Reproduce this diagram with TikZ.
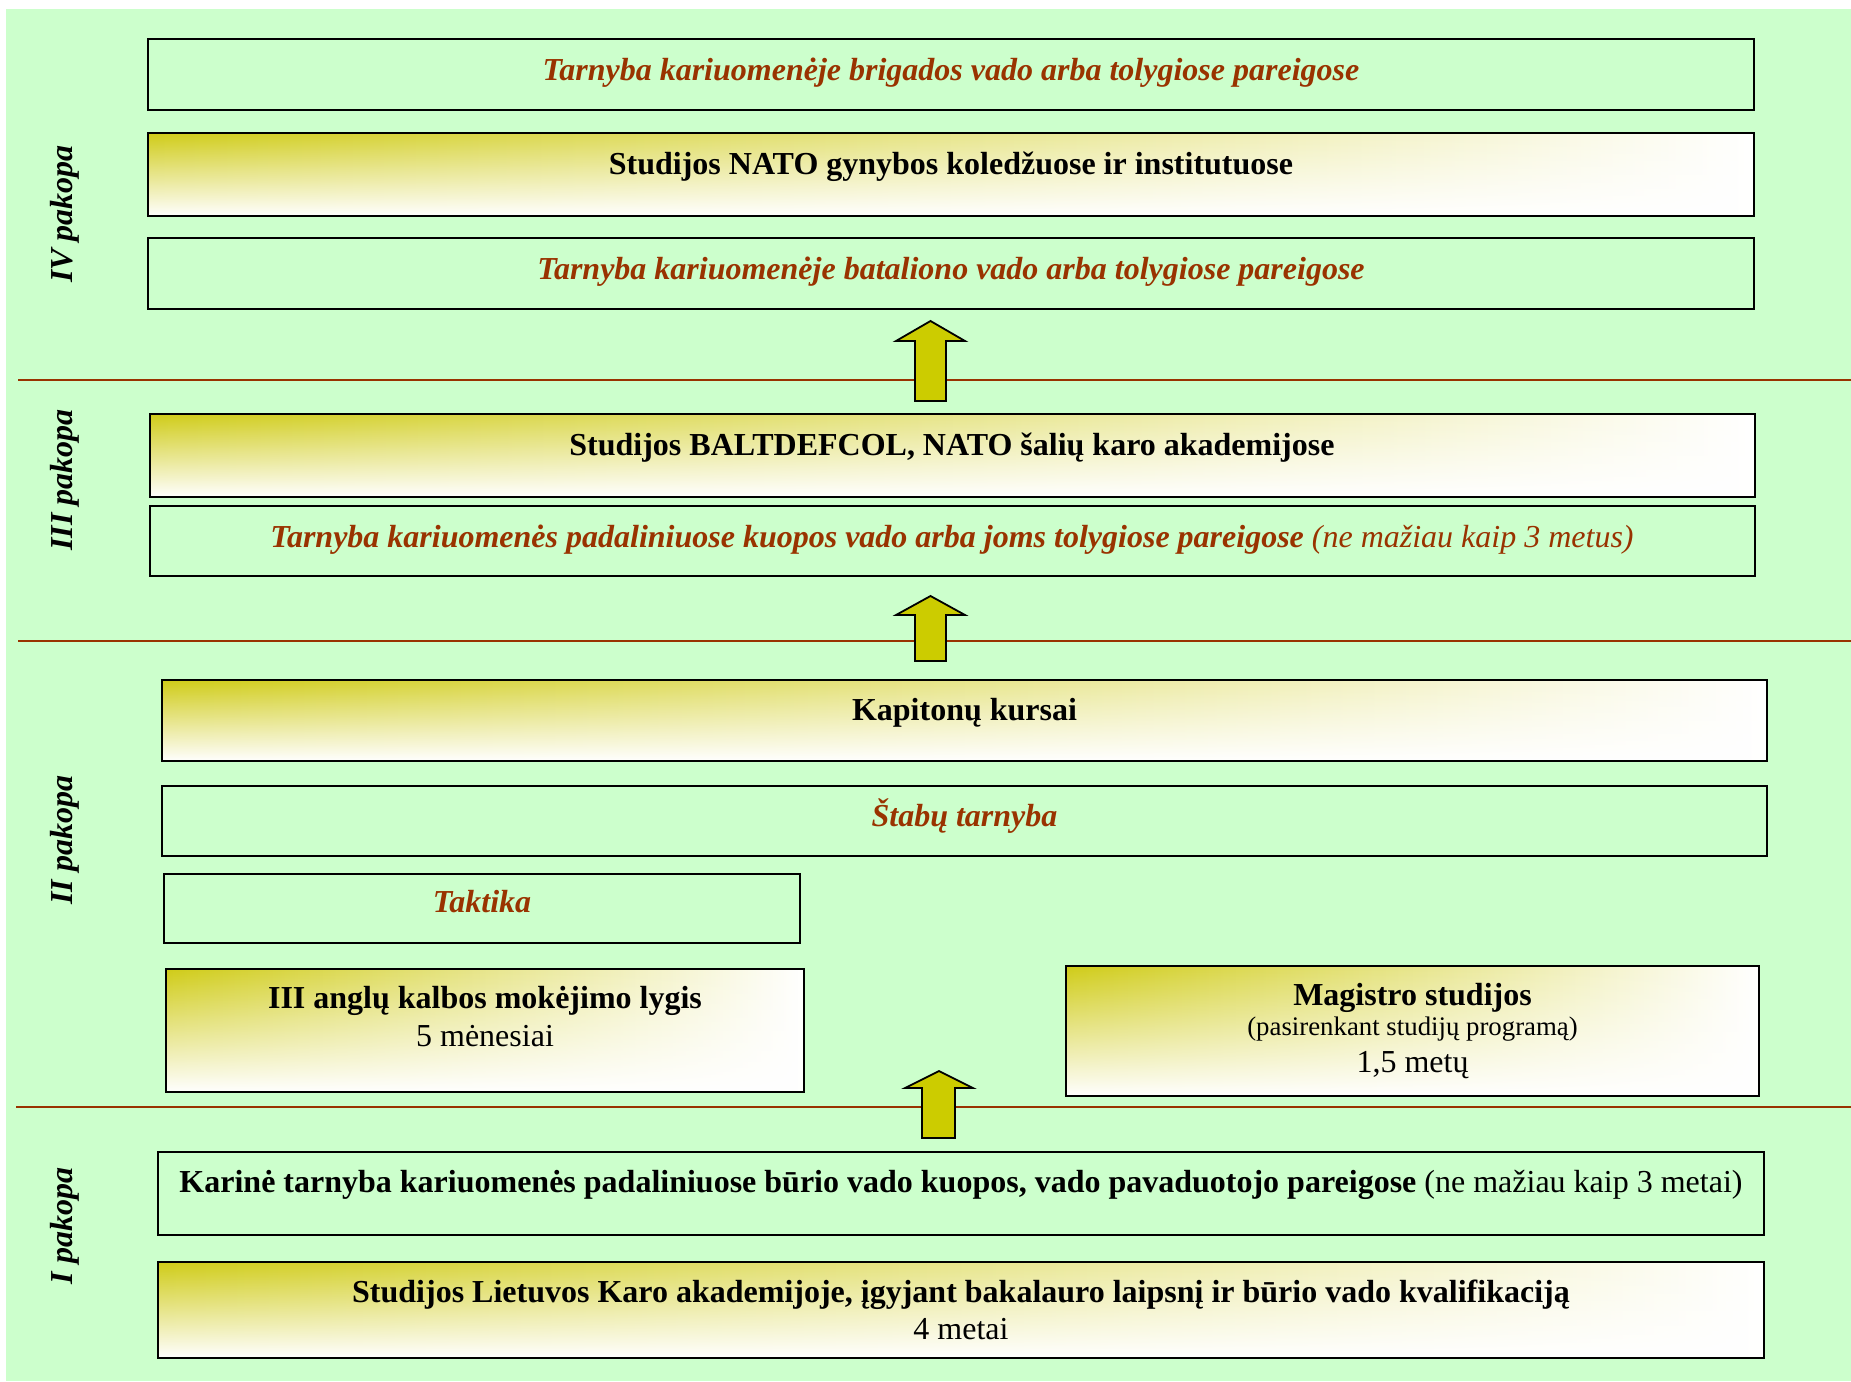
\documentclass[tikz,border=0pt]{standalone}
\usepackage{fontspec}
\setmainfont{Liberation Serif}
\usetikzlibrary{fit,fadings}
\definecolor{bggreen}{HTML}{CCFFCC}
\definecolor{rust}{HTML}{993300}
\definecolor{goldtone}{RGB}{208,204,24}
\definecolor{arrowfill}{HTML}{CCCC00}
\newcommand\mainsz{\fontsize{16pt}{18pt}\selectfont}
\newcommand\smallsz{\fontsize{13.4pt}{15pt}\selectfont}
\begin{document}
\begin{tikzpicture}[x=0.5pt,y=-0.5pt,
  box/.style={draw=black, line width=1pt, inner sep=0pt},
  gradbox/.style={box, path picture={
      \fill[left color=goldtone, middle color=goldtone!55!white, right color=white]
        (path picture bounding box.south west) rectangle (path picture bounding box.north east);
      \fill[white, path fading=north]
        (path picture bounding box.south west) rectangle (path picture bounding box.north east);}},
  txt/.style={inner sep=0pt, anchor=base, font=\mainsz},
  bold/.style={txt, font=\mainsz\bfseries},
  rusty/.style={txt, text=rust, font=\mainsz\bfseries\itshape},
  level/.style={inner sep=0pt, rotate=90, font=\mainsz\bfseries\itshape},
  sep/.style={draw=rust, line width=1.1pt},
  uparrow/.style={draw=black, line width=0.9pt, fill=arrowfill, line join=miter}]

\useasboundingbox (0,0) rectangle (1851,1381);
\fill[bggreen] (6,9) rectangle (1851,1381);

% level separators
\draw[sep] (18,380) -- (1851,380);
\draw[sep] (18,641) -- (1851,641);
\draw[sep] (16,1107) -- (1851,1107);

% level labels
\node[level] (lIV)  at (65,214)  {IV pakopa};
\node[level] (lIII) at (65,480)  {III pakopa};
\node[level] (lII)  at (65,840)  {II pakopa};
\node[level] (lI)   at (65,1226) {I pakopa};

% level IV
\node[box, fit={(147.6,39) (1754,110)}] (brig) {};
\node[gradbox, fit={(147.6,133) (1754,216)}] (nato) {};
\node[box, fit={(147.6,238) (1754,309)}] (bat) {};
\node[rusty] (tbrig) at (951,80) {Tarnyba kariuomenėje brigados vado arba tolygiose pareigose};
\node[bold] (tnato) at (951,174) {Studijos NATO gynybos koledžuose ir institutuose};
\node[rusty] (tbat) at (951,279) {Tarnyba kariuomenėje bataliono vado arba tolygiose pareigose};

% level III
\node[gradbox, fit={(150,414) (1755,497)}] (balt) {};
\node[box, fit={(150,506) (1755,576)}] (kuop) {};
\node[bold] (tbalt) at (952,455) {Studijos BALTDEFCOL, NATO šalių karo akademijose};
\node[rusty] (tkuop) at (952,547) {Tarnyba kariuomenės padaliniuose kuopos vado arba joms tolygiose pareigose\mdseries{} (ne mažiau kaip 3 metus)};

% level II
\node[gradbox, fit={(162,680) (1767,761)}] (kap) {};
\node[box, fit={(162,786) (1767,856)}] (stab) {};
\node[box, fit={(164,874) (800,943)}] (takt) {};
\node[gradbox, fit={(166,969) (804,1092)}] (angl) {};
\node[gradbox, fit={(1066,966) (1759,1096)}] (mag) {};
\node[bold] (tkap) at (964.5,720) {Kapitonų kursai};
\node[rusty] (tstab) at (964.5,826) {Štabų tarnyba};
\node[rusty] (ttakt) at (482,912) {Taktika};
\node[bold] (tangl) at (485,1008) {III anglų kalbos mokėjimo lygis};
\node[txt] (tangl2) at (485,1046) {5 mėnesiai};
\node[bold] (tmag) at (1412.5,1005) {Magistro studijos};
\node[txt, font=\smallsz] (tmag2) at (1412.5,1035) {(pasirenkant studijų programą)};
\node[txt] (tmag3) at (1412.5,1072) {1,5 metų};

% level I
\node[box, fit={(158,1152) (1764,1235)}] (burio) {};
\node[gradbox, fit={(158,1262) (1764,1358)}] (lka) {};
\node[bold] (tburio) at (961,1192) {Karinė tarnyba kariuomenės padaliniuose būrio vado kuopos, vado pavaduotojo pareigose\mdseries{} (ne mažiau kaip 3 metai)};
\node[bold] (tlka) at (961,1302) {Studijos Lietuvos Karo akademijoje, įgyjant bakalauro laipsnį ir būrio vado kvalifikaciją};
\node[txt] (tlka2) at (961,1339) {4 metai};

% block arrows between levels
\draw[uparrow] (915,401) -- (915,341) -- (896,341) -- (930.5,321) -- (965,341) -- (946,341) -- (946,401) -- cycle;
\draw[uparrow] (915,661) -- (915,615) -- (896,615) -- (930.5,596) -- (965,615) -- (946,615) -- (946,661) -- cycle;
\draw[uparrow] (922,1138) -- (922,1088) -- (905,1088) -- (939,1071) -- (973,1088) -- (955,1088) -- (955,1138) -- cycle;
\end{tikzpicture}
\end{document}
